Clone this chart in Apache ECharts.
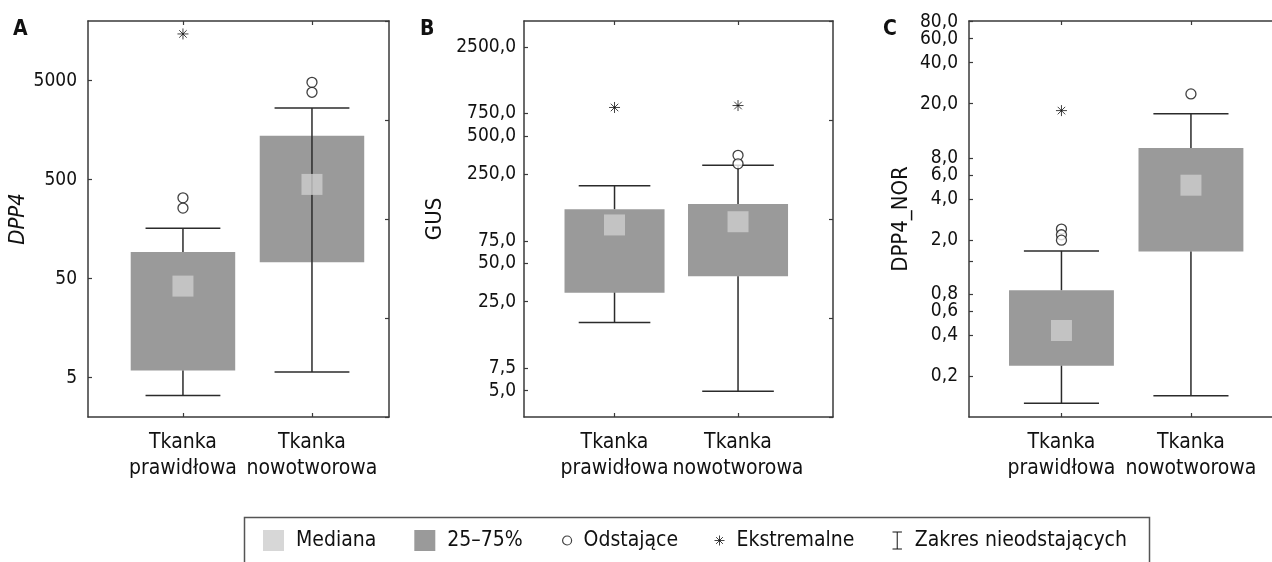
<!DOCTYPE html>
<html>
<head>
<meta charset="utf-8">
<script src="https://cdn.jsdelivr.net/npm/echarts@6/dist/echarts.min.js"></script>
<style>
  html, body { margin: 0; background: #fff; }
  #chart { width: 1272px; height: 562px; }
</style>
</head>
<body>
<div id="chart"></div>
<script>
const categories = ['Tkanka\nprawidłowa', 'Tkanka\nnowotworowa'];

// A: DPP4
const aLow = [3.3, 5.7];
const aQ1 = [5.9, 73];
const aMed = [42, 447];
const aQ3 = [93, 1390];
const aHigh = [161, 2650];
const aOutliers = [[327, 258], [4800, 3810]];
const aExtremes = [[14800], []];
const aTicks = [5, 50, 500, 5000];

// B: GUS
const bLow = [17.1, 4.93];
const bQ1 = [29.4, 39.6];
const bMed = [100, 106];
const bQ3 = [133, 146];
const bHigh = [203, 294];
const bOutliers = [[], [352, 302]];
const bExtremes = [[837], [867]];
const bTicks = [5, 7.5, 25, 50, 75, 250, 500, 750, 2500];

// C: DPP4_NOR
const cLow = [0.126, 0.143];
const cQ1 = [0.238, 1.64];
const cMed = [0.432, 5.04];
const cQ3 = [0.854, 9.44];
const cHigh = [1.66, 16.9];
const cOutliers = [[2.40, 2.18, 1.99], [23.6]];
const cExtremes = [[17.8], []];
const cLabels = [0.2, 0.4, 0.6, 0.8, 2, 4, 6, 8, 20, 40, 60];
const cTopLabels = [80];
const cTicks = [0.2, 0.4, 0.6, 0.8, 1.4, 2, 4, 6, 8, 20, 40, 60, 80];

const COND = '"DejaVu Sans Condensed", "Liberation Sans Narrow", sans-serif';
const INK = '#111';
const FRAME = '#3a3a3a';
const BOX_W = 0.81;
const CAP_W = 0.58;
const STAR = 'path://M5,0 L5,10 M0,5 L10,5 M1.6,1.6 L8.4,8.4 M8.4,1.6 L1.6,8.4';
const IBEAM = 'path://M0,0 L10,0 M5,0 L5,18 M0,18 L10,18';

const comma = v => Number(v).toFixed(1).replace('.', ',');

const panels = [
  { letter: 'A', letterX: 13, name: 'DPP4', italic: true, nameGap: 55, labelMargin: 11,
    left: 88, width: 301, xMin: 0.264, xMax: 2.597, yMin: 2, yMax: 20000,
    low: aLow, q1: aQ1, med: aMed, q3: aQ3, high: aHigh,
    outliers: aOutliers, extremes: aExtremes,
    labels: aTicks, extraLabels: [], ticks: aTicks, fmt: v => String(v), through: [false, true] },
  { letter: 'B', letterX: 420, name: 'GUS', italic: false, nameGap: 78, labelMargin: 8,
    left: 524, width: 309, xMin: 0.267, xMax: 2.769, yMin: 3.1, yMax: 4000,
    low: bLow, q1: bQ1, med: bMed, q3: bQ3, high: bHigh,
    outliers: bOutliers, extremes: bExtremes,
    labels: bTicks, extraLabels: [], ticks: bTicks, fmt: comma, through: [false, false] },
  { letter: 'C', letterX: 883, name: 'DPP4_NOR', italic: false, nameGap: 57, labelMargin: 11,
    left: 969, width: 310, xMin: 0.286, xMax: 2.680, yMin: 0.1, yMax: 81,
    low: cLow, q1: cQ1, med: cMed, q3: cQ3, high: cHigh,
    outliers: cOutliers, extremes: cExtremes,
    labels: cLabels, extraLabels: cTopLabels, ticks: cTicks, fmt: comma, through: [false, false] }
];

function renderBox(params, api) {
  const x = api.value(0);
  const top = api.coord([x - BOX_W / 2, api.value(2)]);
  const bot = api.coord([x + BOX_W / 2, api.value(1)]);
  return {
    type: 'rect',
    shape: { x: top[0], y: top[1], width: bot[0] - top[0], height: bot[1] - top[1] },
    style: { fill: '#9a9a9a' }
  };
}

function whiskerRenderer(through) {
  return function (params, api) {
    const x = api.value(0);
    const lo = api.coord([x, api.value(1)]);
    const b = api.coord([x, api.value(2)]);
    const t = api.coord([x, api.value(3)]);
    const hi = api.coord([x, api.value(4)]);
    const l = api.coord([x - CAP_W / 2, api.value(1)])[0];
    const r = api.coord([x + CAP_W / 2, api.value(1)])[0];
    const style = { stroke: '#2b2b2b', lineWidth: 1.5 };
    const segs = through[params.dataIndex] ? [[lo, hi]] : [[lo, b], [t, hi]];
    const children = segs.map(s => ({
      type: 'line', shape: { x1: s[0][0], y1: s[0][1], x2: s[1][0], y2: s[1][1] }, style
    }));
    children.push({ type: 'line', shape: { x1: l, y1: lo[1], x2: r, y2: lo[1] }, style });
    children.push({ type: 'line', shape: { x1: l, y1: hi[1], x2: r, y2: hi[1] }, style });
    return { type: 'group', children };
  };
}

const grid = [], xAxis = [], yAxis = [], series = [], title = [];

panels.forEach((p, i) => {
  grid.push({ left: p.left, top: 21, width: p.width, height: 396, outerBoundsMode: 'none' });
  title.push({ text: p.letter, left: p.letterX, top: 19, padding: 0,
    textStyle: { fontFamily: COND, fontSize: 21, fontWeight: 'bold', color: INK } });

  const frameLine = { show: true, onZero: false, lineStyle: { color: FRAME, width: 1.5 } };
  const tick = (vals) => ({ show: true, inside: true, length: 4, customValues: vals,
    lineStyle: { color: FRAME, width: 1.2 } });
  const labelStyle = { formatter: p.fmt, margin: p.labelMargin, hideOverlap: false,
    fontFamily: COND, fontSize: 19, color: INK };

  // bottom axis: categories sit at 1 and 2
  xAxis.push({
    gridIndex: i, type: 'value', position: 'bottom', min: p.xMin, max: p.xMax,
    axisLine: frameLine, splitLine: { show: false }, axisTick: tick([1, 2]),
    axisLabel: { customValues: [1, 2], formatter: v => categories[Math.round(v) - 1],
      hideOverlap: false, margin: 13, fontFamily: COND, fontSize: 21, lineHeight: 26, color: INK }
  });
  xAxis.push({
    gridIndex: i, type: 'value', position: 'top', min: p.xMin, max: p.xMax,
    axisLine: frameLine, splitLine: { show: false }, axisTick: tick([1, 2]),
    axisLabel: { show: false }
  });
  const yi = yAxis.length;
  yAxis.push({
    gridIndex: i, type: 'log', logBase: 10, position: 'left', min: p.yMin, max: p.yMax,
    name: p.name, nameLocation: 'middle', nameGap: p.nameGap,
    nameTextStyle: { fontFamily: COND, fontSize: 22, color: INK, fontStyle: p.italic ? 'italic' : 'normal' },
    axisLine: frameLine, splitLine: { show: false }, minorTick: { show: false },
    axisTick: tick(p.ticks),
    axisLabel: Object.assign({ customValues: p.labels }, labelStyle)
  });
  yAxis.push({
    gridIndex: i, type: 'value', position: 'right', min: 0, max: 4, interval: 1,
    axisLine: frameLine, splitLine: { show: false },
    axisTick: { show: true, inside: true, length: 4, lineStyle: { color: FRAME, width: 1.2 } },
    axisLabel: { show: false }
  });
  if (p.extraLabels.length) {
    // crowded top label kept on its own axis so it is not dropped
    yAxis.push({
      gridIndex: i, type: 'log', logBase: 10, position: 'left', min: p.yMin, max: p.yMax,
      axisLine: { show: false }, axisTick: { show: false }, splitLine: { show: false },
      minorTick: { show: false },
      axisLabel: Object.assign({ customValues: p.extraLabels }, labelStyle)
    });
  }

  const xi = i * 2;
  series.push({
    name: '25–75%', type: 'custom', xAxisIndex: xi, yAxisIndex: yi, z: 2,
    itemStyle: { color: '#9a9a9a' },
    renderItem: renderBox, encode: { x: 0, y: [1, 2] },
    data: categories.map((c, k) => [k + 1, p.q1[k], p.q3[k]])
  });
  series.push({
    name: 'Zakres nieodstających', type: 'custom', xAxisIndex: xi, yAxisIndex: yi, z: 3,
    itemStyle: { color: '#2b2b2b' },
    renderItem: whiskerRenderer(p.through), encode: { x: 0, y: [1, 2, 3, 4] },
    data: categories.map((c, k) => [k + 1, p.low[k], p.q1[k], p.q3[k], p.high[k]])
  });
  series.push({
    name: 'Mediana', type: 'scatter', xAxisIndex: xi, yAxisIndex: yi, z: 4,
    symbol: 'rect', symbolSize: 21, itemStyle: { color: '#cdcdcd' },
    data: categories.map((c, k) => [k + 1, p.med[k]])
  });
  series.push({
    name: 'Odstające', type: 'scatter', xAxisIndex: xi, yAxisIndex: yi, z: 5,
    symbol: 'circle', symbolSize: 10,
    itemStyle: { color: '#fff', borderColor: '#111', borderWidth: 1.3 },
    data: p.outliers.flatMap((vals, k) => vals.map(v => [k + 1, v]))
  });
  series.push({
    name: 'Ekstremalne', type: 'scatter', xAxisIndex: xi, yAxisIndex: yi, z: 5,
    symbol: STAR, symbolSize: 11,
    itemStyle: { color: 'transparent', borderColor: '#111', borderWidth: 1 },
    data: p.extremes.flatMap((vals, k) => vals.map(v => [k + 1, v]))
  });
});

const legendText = { fontFamily: COND, fontSize: 21, color: INK, padding: [0, 0, 0, 7] };
const legendBase = { top: 530, padding: 0, selectedMode: false, textStyle: legendText };
const legend = [
  Object.assign({ left: 263, itemWidth: 21, itemHeight: 21, itemGap: 38,
    data: [{ name: 'Mediana', icon: 'rect' }, { name: '25–75%', icon: 'rect' }] }, legendBase),
  Object.assign({ left: 562, itemWidth: 9, itemHeight: 9,
    data: [{ name: 'Odstające', icon: 'circle',
      itemStyle: { color: '#fff', borderColor: '#111', borderWidth: 1.2 } }] }, legendBase),
  Object.assign({ left: 714, itemWidth: 10, itemHeight: 10,
    data: [{ name: 'Ekstremalne', icon: STAR,
      itemStyle: { color: 'transparent', borderColor: '#111', borderWidth: 1 } }] }, legendBase),
  Object.assign({ left: 892, itemWidth: 11, itemHeight: 17,
    data: [{ name: 'Zakres nieodstających', icon: IBEAM,
      itemStyle: { color: 'transparent', borderColor: '#111', borderWidth: 1 } }] }, legendBase)
];

const chart = echarts.init(document.getElementById('chart'), null, { renderer: 'canvas' });
chart.setOption({
  backgroundColor: '#fff',
  animation: false,
  title,
  grid,
  xAxis,
  yAxis,
  legend,
  tooltip: { show: false },
  graphic: [{
    type: 'rect', left: 242, top: 515, silent: true,
    shape: { width: 905, height: 70 },
    style: { fill: 'none', stroke: '#555', lineWidth: 1.5 }
  }],
  series
});
</script>
</body>
</html>
